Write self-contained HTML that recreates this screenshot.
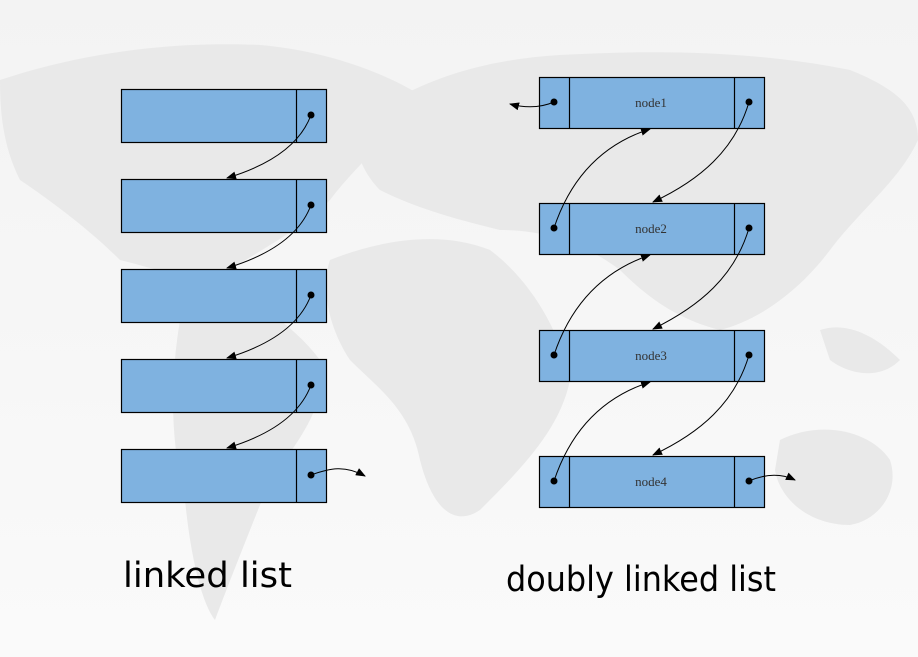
<!DOCTYPE html>
<html><head><meta charset="utf-8"><style>
html,body{margin:0;padding:0;width:918px;height:657px;overflow:hidden;background:#f7f7f7}
</style></head><body>
<svg width="918" height="657" viewBox="0 0 918 657" xmlns="http://www.w3.org/2000/svg">
<defs>
<marker id="a" markerWidth="10" markerHeight="8" refX="9" refY="4" orient="auto" markerUnits="userSpaceOnUse"><path d="M0,0 L10,4 L0,8 Z" fill="#000"/></marker>
<linearGradient id="bg" x1="0" y1="0" x2="0" y2="1"><stop offset="0" stop-color="#f3f3f3"/><stop offset="1" stop-color="#fafafa"/></linearGradient>
</defs>
<rect width="918" height="657" fill="url(#bg)"/>
<g fill="#e9e9e9">
<path d="M0,80 C60,60 150,40 260,45 C320,50 380,70 420,95 C400,130 360,160 330,200 C300,230 260,250 230,270 C200,285 160,270 120,260 C90,230 50,200 20,180 C5,150 0,120 0,80 Z"/>
<path d="M200,280 C240,290 290,320 320,360 C330,400 300,440 270,480 C250,530 230,580 215,620 C200,600 190,550 185,500 C170,440 170,380 180,320 Z"/>
<path d="M330,260 C380,240 440,230 490,250 C530,280 560,330 570,380 C560,430 520,470 480,510 C450,530 430,500 420,460 C410,410 380,390 350,360 C330,330 320,290 330,260 Z"/>
<path d="M360,120 C420,80 480,60 560,55 C650,50 750,50 850,70 C900,90 918,110 918,140 C900,180 860,210 830,250 C800,290 760,320 720,330 C680,320 650,300 620,270 C580,240 540,230 500,230 C460,220 420,210 380,190 C360,170 350,140 360,120 Z"/>
<path d="M780,440 C820,420 870,430 890,460 C900,490 880,520 850,525 C810,525 780,500 775,470 Z"/>
<path d="M820,330 C850,320 880,340 900,360 C880,380 850,375 830,360 Z"/>
</g>
<g stroke="#000" stroke-width="1.2" fill="#7fb2e0">
<rect x="121.5" y="89.5" width="205" height="53"/><line x1="296.5" y1="89.5" x2="296.5" y2="142.5"/>
<rect x="121.5" y="179.5" width="205" height="53"/><line x1="296.5" y1="179.5" x2="296.5" y2="232.5"/>
<rect x="121.5" y="269.5" width="205" height="53"/><line x1="296.5" y1="269.5" x2="296.5" y2="322.5"/>
<rect x="121.5" y="359.5" width="205" height="53"/><line x1="296.5" y1="359.5" x2="296.5" y2="412.5"/>
<rect x="121.5" y="449.5" width="205" height="53"/><line x1="296.5" y1="449.5" x2="296.5" y2="502.5"/>
<rect x="539.5" y="77.5" width="225" height="51"/><line x1="569.5" y1="77.5" x2="569.5" y2="128.5"/><line x1="734.5" y1="77.5" x2="734.5" y2="128.5"/>
<rect x="539.5" y="203.5" width="225" height="51"/><line x1="569.5" y1="203.5" x2="569.5" y2="254.5"/><line x1="734.5" y1="203.5" x2="734.5" y2="254.5"/>
<rect x="539.5" y="330.5" width="225" height="51"/><line x1="569.5" y1="330.5" x2="569.5" y2="381.5"/><line x1="734.5" y1="330.5" x2="734.5" y2="381.5"/>
<rect x="539.5" y="456.5" width="225" height="51"/><line x1="569.5" y1="456.5" x2="569.5" y2="507.5"/><line x1="734.5" y1="456.5" x2="734.5" y2="507.5"/>
</g>
<g fill="#000">
<circle cx="311" cy="115" r="3.5"/><circle cx="311" cy="205" r="3.5"/><circle cx="311" cy="295" r="3.5"/><circle cx="311" cy="385" r="3.5"/><circle cx="311" cy="475" r="3.5"/>
<circle cx="554" cy="102" r="3.5"/><circle cx="749" cy="102" r="3.5"/>
<circle cx="554" cy="228" r="3.5"/><circle cx="749" cy="228" r="3.5"/>
<circle cx="554" cy="355" r="3.5"/><circle cx="749" cy="355" r="3.5"/>
<circle cx="554" cy="481" r="3.5"/><circle cx="749" cy="481" r="3.5"/>
</g>
<g stroke="#000" stroke-width="1" fill="none" marker-end="url(#a)">
<path d="M311,115 C300,145 270,165 227,178"/>
<path d="M311,205 C300,235 270,255 227,268"/>
<path d="M311,295 C300,325 270,345 227,358"/>
<path d="M311,385 C300,415 270,435 227,448"/>
<path d="M311,475 C330,468 345,465 365,476"/>
<path d="M554,102 C540,108 525,108 510,104"/>
<path d="M749,102 C735,150 700,180 653,202"/>
<path d="M554,228 C570,180 600,145 650,129"/>
<path d="M749,228 C735,276 700,306 653,329"/>
<path d="M554,355 C570,307 600,272 650,255"/>
<path d="M749,355 C735,403 700,433 653,455"/>
<path d="M554,481 C570,433 600,398 650,382"/>
<path d="M749,481 C765,474 780,473 795,480"/>
</g>
<g font-family="'Liberation Serif',serif" font-size="13" fill="#333" text-anchor="middle">
<text x="651" y="107">node1</text><text x="651" y="233">node2</text><text x="651" y="360">node3</text><text x="651" y="486">node4</text>
</g>
<g font-family="'DejaVu Sans','Liberation Sans',sans-serif" font-size="35" fill="#000">
<text x="123" y="587" textLength="169" lengthAdjust="spacingAndGlyphs">linked list</text>
<text x="506" y="591" textLength="270" lengthAdjust="spacingAndGlyphs">doubly linked list</text>
</g>
</svg>
</body></html>
